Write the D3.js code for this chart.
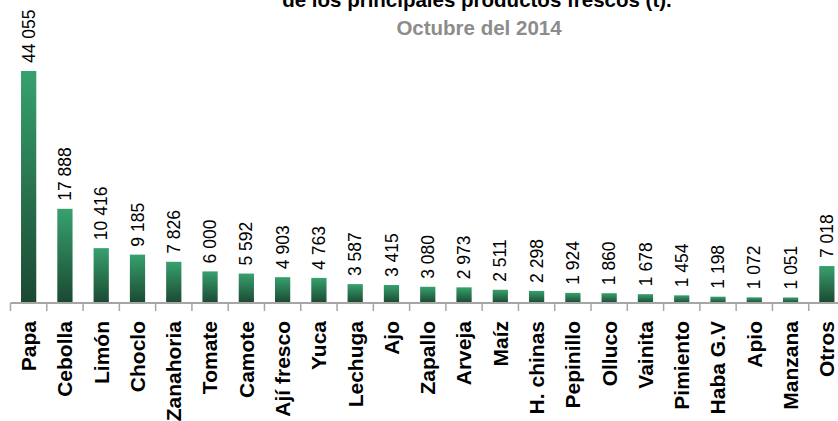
<!DOCTYPE html>
<html>
<head>
<meta charset="utf-8">
<script src="https://cdn.jsdelivr.net/npm/d3@7"></script>
<style>
  body { margin: 0; background: #fff; }
  svg { display: block; font-family: "Liberation Sans", Arial, sans-serif; }
</style>
</head>
<body>
<div id="chart"></div>
<script>
// Data
const productos = ["Papa", "Cebolla", "Limón", "Choclo", "Zanahoria", "Tomate", "Camote",
  "Ají fresco", "Yuca", "Lechuga", "Ajo", "Zapallo", "Arveja", "Maíz", "H. chinas",
  "Pepinillo", "Olluco", "Vainita", "Pimiento", "Haba G.V", "Apio", "Manzana", "Otros"];
const toneladas = [44055, 17888, 10416, 9185, 7826, 6000, 5592, 4903, 4763, 3587, 3415,
  3080, 2973, 2511, 2298, 1924, 1860, 1678, 1454, 1198, 1072, 1051, 7018];
const titulo = "de los principales productos frescos (t).";
const subtitulo = "Octubre del 2014";

/*******************************/
/*    Declare the constants    */
/*******************************/
const width = 838;
const height = 421;
const margin = {top: 40, right: -7, bottom: 118, left: 10.5};
const axisY = height - margin.bottom;

const svg = d3.select("#chart")
  .append("svg")
    .attr("width", width)
    .attr("height", height);

// Gradient for the bars: light green at top, dark at bottom
const grad = svg.append("defs")
  .append("linearGradient")
    .attr("id", "barGrad")
    .attr("x1", 0).attr("y1", 0)
    .attr("x2", 0).attr("y2", 1);
grad.append("stop").attr("offset", "0%").attr("stop-color", "#37a16d");
grad.append("stop").attr("offset", "100%").attr("stop-color", "#1b4832");

/*********************************/
/*    Declare scales             */
/*********************************/
const xScale = d3.scaleBand()
  .domain(productos)
  .range([margin.left, width - margin.right])
  .paddingInner(0)
  .paddingOuter(0);

const yScale = d3.scaleLinear()
  .domain([0, 50000])
  .range([axisY, 39.7]);

const barWidth = xScale.bandwidth() * 0.42;

/*********************************/
/*    Title                      */
/*********************************/
svg.append("text")
  .text(titulo)
  .attr("x", 477)
  .attr("y", 7)
  .attr("text-anchor", "middle")
  .attr("font-size", 20.5)
  .attr("font-weight", "bold")
  .attr("fill", "#000");

svg.append("text")
  .text(subtitulo)
  .attr("x", 479)
  .attr("y", 35)
  .attr("text-anchor", "middle")
  .attr("font-size", 20.5)
  .attr("font-weight", "bold")
  .attr("fill", "#8c8c8c");

/*********************************/
/*    Bars                       */
/*********************************/
const rows = productos.map((p, i) => ({producto: p, valor: toneladas[i]}));

svg.append("g")
  .selectAll("rect")
  .data(rows)
  .join("rect")
    .attr("x", d => xScale(d.producto) + (xScale.bandwidth() - barWidth) / 2)
    .attr("y", d => yScale(d.valor))
    .attr("width", barWidth)
    .attr("height", d => yScale(0) - yScale(d.valor))
    .attr("fill", "url(#barGrad)");

// Value labels (rotated)
const fmt = v => d3.format(",")(v).replace(/,/g, " ");
svg.append("g")
  .selectAll("text")
  .data(rows)
  .join("text")
    .attr("transform", d => `translate(${xScale(d.producto) + xScale.bandwidth() / 2}, ${yScale(d.valor) - 8}) rotate(-90)`)
    .attr("dy", "0.35em")
    .attr("font-size", 17.5)
    .attr("fill", "#000")
    .text(d => fmt(d.valor));

/*********************************/
/*    Append Axis                */
/*********************************/
const axis = svg.append("g")
  .attr("transform", `translate(0, ${axisY})`);

axis.append("line")
  .attr("x1", margin.left)
  .attr("x2", width - margin.right)
  .attr("stroke", "#a6a6a6")
  .attr("stroke-width", 2);

const tickX = productos.map(p => xScale(p)).concat([xScale.range()[1]]);
axis.selectAll(".tick")
  .data(tickX)
  .join("line")
    .attr("class", "tick")
    .attr("x1", d => d).attr("x2", d => d)
    .attr("y1", 0).attr("y2", 8)
    .attr("stroke", "#a6a6a6")
    .attr("stroke-width", 1.5);

axis.selectAll(".cat")
  .data(productos)
  .join("text")
    .attr("class", "cat")
    .attr("transform", d => `translate(${xScale(d) + xScale.bandwidth() / 2}, 18) rotate(-90)`)
    .attr("text-anchor", "end")
    .attr("dy", "0.35em")
    .attr("font-size", 21)
    .attr("font-weight", "bold")
    .attr("fill", "#000")
    .text(d => d);
</script>
</body>
</html>
